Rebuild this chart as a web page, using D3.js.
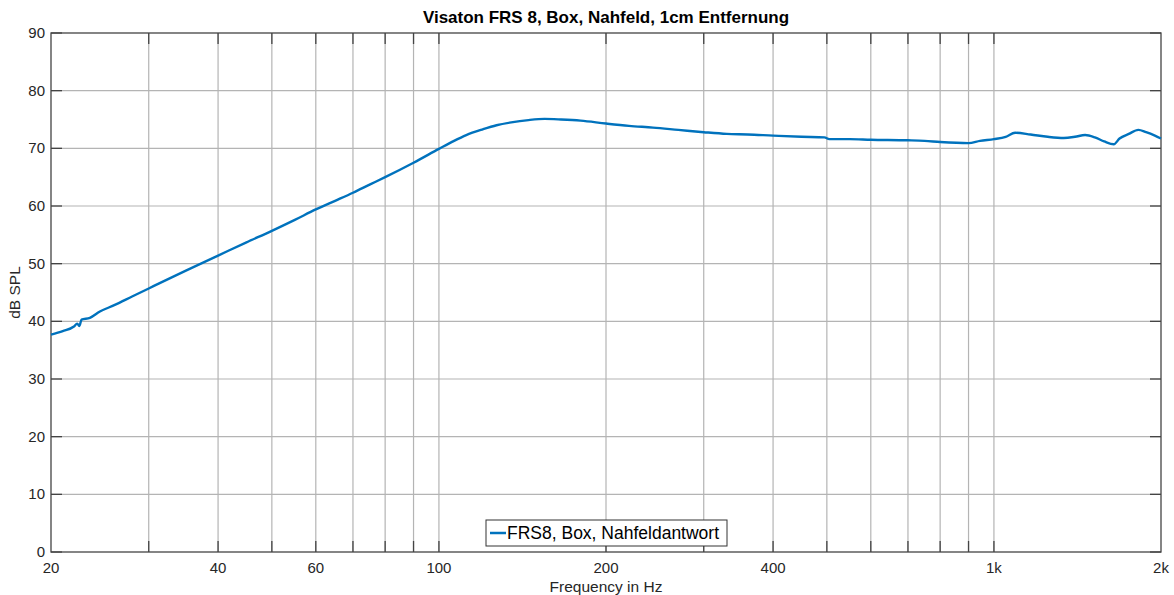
<!DOCTYPE html>
<html>
<head>
<meta charset="utf-8">
<script src="https://cdn.jsdelivr.net/npm/d3@7"></script>
<style>
  body { margin: 0; background: #fff; }
  text { font-family: "Liberation Sans", Arial, sans-serif; }
</style>
</head>
<body>
<svg id="chart"></svg>
<script>
const width = 1174,
	height = 595;

const freqs = [20, 21, 22, 22.3, 22.5, 22.7, 23.5, 24.5, 26, 28, 30, 35, 40, 45, 50, 55, 60, 65, 70, 75, 80, 90,
	100, 106, 112, 120, 127, 135, 145, 155, 166, 180, 200, 220, 243, 270, 300, 330, 360, 400, 450, 495, 505, 550,
	600, 700, 750, 800, 900, 944, 1000, 1050, 1092, 1164, 1250, 1336, 1400, 1460, 1520, 1580, 1644, 1684, 1750,
	1821, 1880, 1950, 2000];
const spl = [37.7, 38.3, 39.1, 39.6, 39.2, 40.3, 40.6, 41.7, 42.8, 44.3, 45.7, 48.8, 51.4, 53.7, 55.7, 57.6, 59.4,
	60.9, 62.3, 63.7, 65.0, 67.5, 69.9, 71.2, 72.3, 73.3, 74.0, 74.5, 74.9, 75.1, 75.0, 74.8, 74.3, 73.9, 73.6, 73.2,
	72.8, 72.5, 72.4, 72.2, 72.0, 71.9, 71.6, 71.6, 71.5, 71.4, 71.3, 71.1, 70.9, 71.3, 71.6, 72.0, 72.7, 72.4, 72.0,
	71.8, 72.0, 72.3, 71.9, 71.2, 70.7, 71.7, 72.5, 73.2, 72.8, 72.2, 71.7];

const xTickValues = [20, 40, 60, 100, 200, 400, 1000, 2000];
const xTickLabels = ['20', '40', '60', '100', '200', '400', '1k', '2k'];
const xGridValues = [30, 40, 50, 60, 70, 80, 90, 100, 200, 300, 400, 500, 600, 700, 800, 900, 1000];
const yTickValues = [0, 10, 20, 30, 40, 50, 60, 70, 80, 90];

const seriesName = 'FRS8, Box, Nahfeldantwort';
const title = 'Visaton FRS 8, Box, Nahfeld, 1cm Entfernung';

const margin = { top: 33, right: 13, bottom: 43, left: 51 };
const plotW = width - margin.left - margin.right,
	plotH = height - margin.top - margin.bottom;

const svg = d3.select('#chart').attr('width', width).attr('height', height);
const g = svg.append('g').attr('transform', `translate(${margin.left},${margin.top})`);

const x = d3.scaleLog().domain([20, 2000]).range([0, plotW]);
const y = d3.scaleLinear().domain([0, 90]).range([plotH, 0]);

const axisColor = '#262626';
const tickLen = 11;

// grid
g.append('g')
	.selectAll('line')
	.data(xGridValues)
	.join('line')
	.attr('x1', d => x(d))
	.attr('x2', d => x(d))
	.attr('y1', 0)
	.attr('y2', plotH)
	.attr('stroke', '#b4b4b4')
	.attr('stroke-width', 1.2);

g.append('g')
	.selectAll('line')
	.data(yTickValues.slice(1, -1))
	.join('line')
	.attr('x1', 0)
	.attr('x2', plotW)
	.attr('y1', d => y(d))
	.attr('y2', d => y(d))
	.attr('stroke', '#b4b4b4')
	.attr('stroke-width', 1.2);

// inward ticks on all four sides
const ticks = g.append('g').attr('stroke', '#444').attr('stroke-width', 1.3);
xGridValues.forEach(v => {
	ticks.append('line').attr('x1', x(v)).attr('x2', x(v)).attr('y1', plotH).attr('y2', plotH - tickLen);
	ticks.append('line').attr('x1', x(v)).attr('x2', x(v)).attr('y1', 0).attr('y2', tickLen);
});
yTickValues.forEach(v => {
	ticks.append('line').attr('x1', 0).attr('x2', tickLen).attr('y1', y(v)).attr('y2', y(v));
	ticks.append('line').attr('x1', plotW).attr('x2', plotW - tickLen).attr('y1', y(v)).attr('y2', y(v));
});

// frame
g.append('rect')
	.attr('width', plotW)
	.attr('height', plotH)
	.attr('fill', 'none')
	.attr('stroke', '#444')
	.attr('stroke-width', 1.3);

// tick labels
g.append('g')
	.selectAll('text')
	.data(xTickValues)
	.join('text')
	.attr('x', d => x(d))
	.attr('y', plotH + 21)
	.attr('text-anchor', 'middle')
	.attr('font-size', 15)
	.attr('fill', axisColor)
	.text((d, i) => xTickLabels[i]);

g.append('g')
	.selectAll('text')
	.data(yTickValues)
	.join('text')
	.attr('x', -6)
	.attr('y', d => y(d) + 5)
	.attr('text-anchor', 'end')
	.attr('font-size', 15)
	.attr('fill', axisColor)
	.text(d => d);

// axis labels and title
svg.append('text')
	.attr('x', margin.left + plotW / 2)
	.attr('y', height - 3)
	.attr('text-anchor', 'middle')
	.attr('font-size', 15.5)
	.attr('fill', axisColor)
	.text('Frequency in Hz');

svg.append('text')
	.attr('transform', `translate(20,${margin.top + plotH / 2}) rotate(-90)`)
	.attr('text-anchor', 'middle')
	.attr('font-size', 15.5)
	.attr('fill', axisColor)
	.text('dB SPL');

svg.append('text')
	.attr('x', margin.left + plotW / 2)
	.attr('y', 23)
	.attr('text-anchor', 'middle')
	.attr('font-size', 17)
	.attr('font-weight', 'bold')
	.attr('fill', '#000')
	.text(title);

// data line
const data = freqs.map((f, i) => ({ f, v: spl[i] }));
const line = d3
	.line()
	.x(d => x(d.f))
	.y(d => y(d.v))
	.curve(d3.curveMonotoneX);

g.append('path')
	.datum(data)
	.attr('d', line)
	.attr('fill', 'none')
	.attr('stroke', '#0072BD')
	.attr('stroke-width', 2.4);

// legend
const legend = svg.append('g').attr('transform', 'translate(486,520)');
legend.append('rect')
	.attr('width', 241)
	.attr('height', 26)
	.attr('fill', '#fff')
	.attr('stroke', '#333')
	.attr('stroke-width', 1);
legend.append('line')
	.attr('x1', 4)
	.attr('x2', 20)
	.attr('y1', 13)
	.attr('y2', 13)
	.attr('stroke', '#0072BD')
	.attr('stroke-width', 2.5);
legend.append('text')
	.attr('x', 21)
	.attr('y', 19)
	.attr('font-size', 17.5)
	.attr('fill', '#000')
	.text(seriesName);
</script>
</body>
</html>
